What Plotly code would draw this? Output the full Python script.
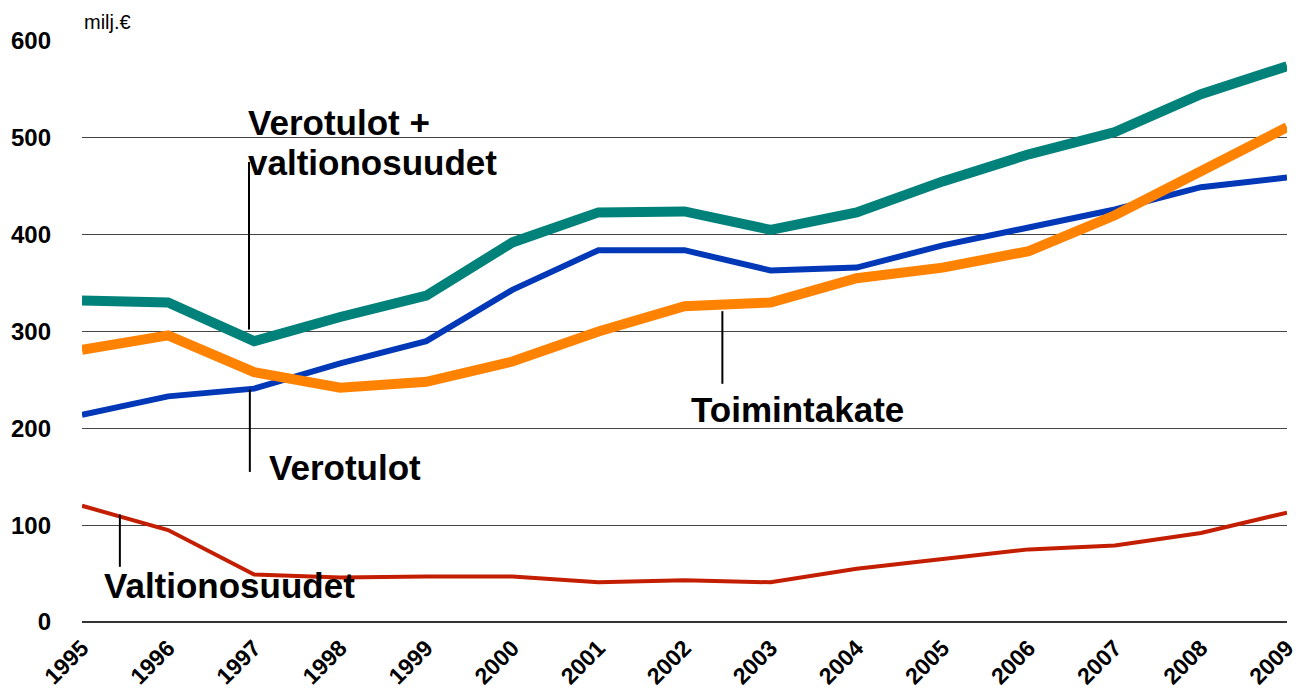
import plotly.graph_objects as go

years = list(range(1995, 2010))
vero_valtio = [332, 330, 290, 315, 337, 392, 423, 424, 405, 423, 455, 483, 506, 545, 574]
verotulot = [214, 233, 241, 267, 290, 343, 384, 384, 363, 366, 389, 408, 426, 449, 459]
toimintakate = [281, 296, 258, 242, 248, 269, 300, 326, 330, 355, 366, 383, 420, 465, 511]
valtionosuudet = [120, 95, 49, 46, 47, 47, 41, 43, 41, 55, 65, 75, 79, 92, 113]
y_ticks = [0, 100, 200, 300, 400, 500, 600]

FONT = "Liberation Sans, Arial, sans-serif"

fig = go.Figure()
fig.add_trace(go.Scatter(x=years, y=valtionosuudet, mode="lines",
                         line=dict(color="#C41E00", width=4), name="Valtionosuudet"))
fig.add_trace(go.Scatter(x=years, y=verotulot, mode="lines",
                         line=dict(color="#0038B8", width=6), name="Verotulot"))
fig.add_trace(go.Scatter(x=years, y=toimintakate, mode="lines",
                         line=dict(color="#FF8200", width=10), name="Toimintakate"))
fig.add_trace(go.Scatter(x=years, y=vero_valtio, mode="lines",
                         line=dict(color="#00827A", width=10), name="Verotulot + valtionosuudet"))

# leader lines
leaders = [
    (1996.94, 475, 302),
    (1996.95, 240, 155),
    (2002.44, 321, 246),
    (1995.44, 111, 57),
]
for x, y0, y1 in leaders:
    fig.add_shape(type="line", xref="x", yref="y", x0=x, x1=x, y0=y0, y1=y1,
                  line=dict(color="black", width=2))

labels = [
    ("Verotulot +", 1996.917, 516),
    ("valtionosuudet", 1996.917, 475),
    ("Toimintakate", 2002.064, 219),
    ("Verotulot", 1997.161, 160),
    ("Valtionosuudet", 1995.244, 38),
]
for t, x, y in labels:
    fig.add_annotation(text=t, x=x, y=y, xref="x", yref="y", xanchor="left",
                       yanchor="middle", showarrow=False, borderpad=0,
                       font=dict(family=FONT, size=35, color="black", weight="bold"))

fig.add_annotation(text="milj.€", x=0, y=1, xref="paper", yref="paper",
                   xanchor="left", yanchor="bottom", yshift=6, showarrow=False,
                   font=dict(family=FONT, size=20, color="black"))

fig.update_layout(
    width=1301, height=693,
    margin=dict(l=82, r=14, t=41, b=71),
    paper_bgcolor="white", plot_bgcolor="white",
    showlegend=False,
    font=dict(family=FONT, color="black"),
)
fig.update_xaxes(range=[1995, 2009], tickvals=years, ticktext=[str(y) for y in years],
                 tickangle=-45, showgrid=False, zeroline=False, showline=False,
                 automargin=False, ticklabelstandoff=7,
                 tickfont=dict(family=FONT, size=23, color="black", weight="bold"))
fig.update_yaxes(range=[0, 600], tickvals=y_ticks, showgrid=True, gridcolor="#444444",
                 gridwidth=1, zeroline=True, zerolinecolor="#333333", zerolinewidth=2,
                 showline=False, ticklabelstandoff=30, automargin=False,
                 tickfont=dict(family=FONT, size=24, color="black", weight="bold"))

fig.write_html("out.html", config={"displayModeBar": False},
               post_script="document.body.style.margin='0';document.body.style.overflow='hidden';")
